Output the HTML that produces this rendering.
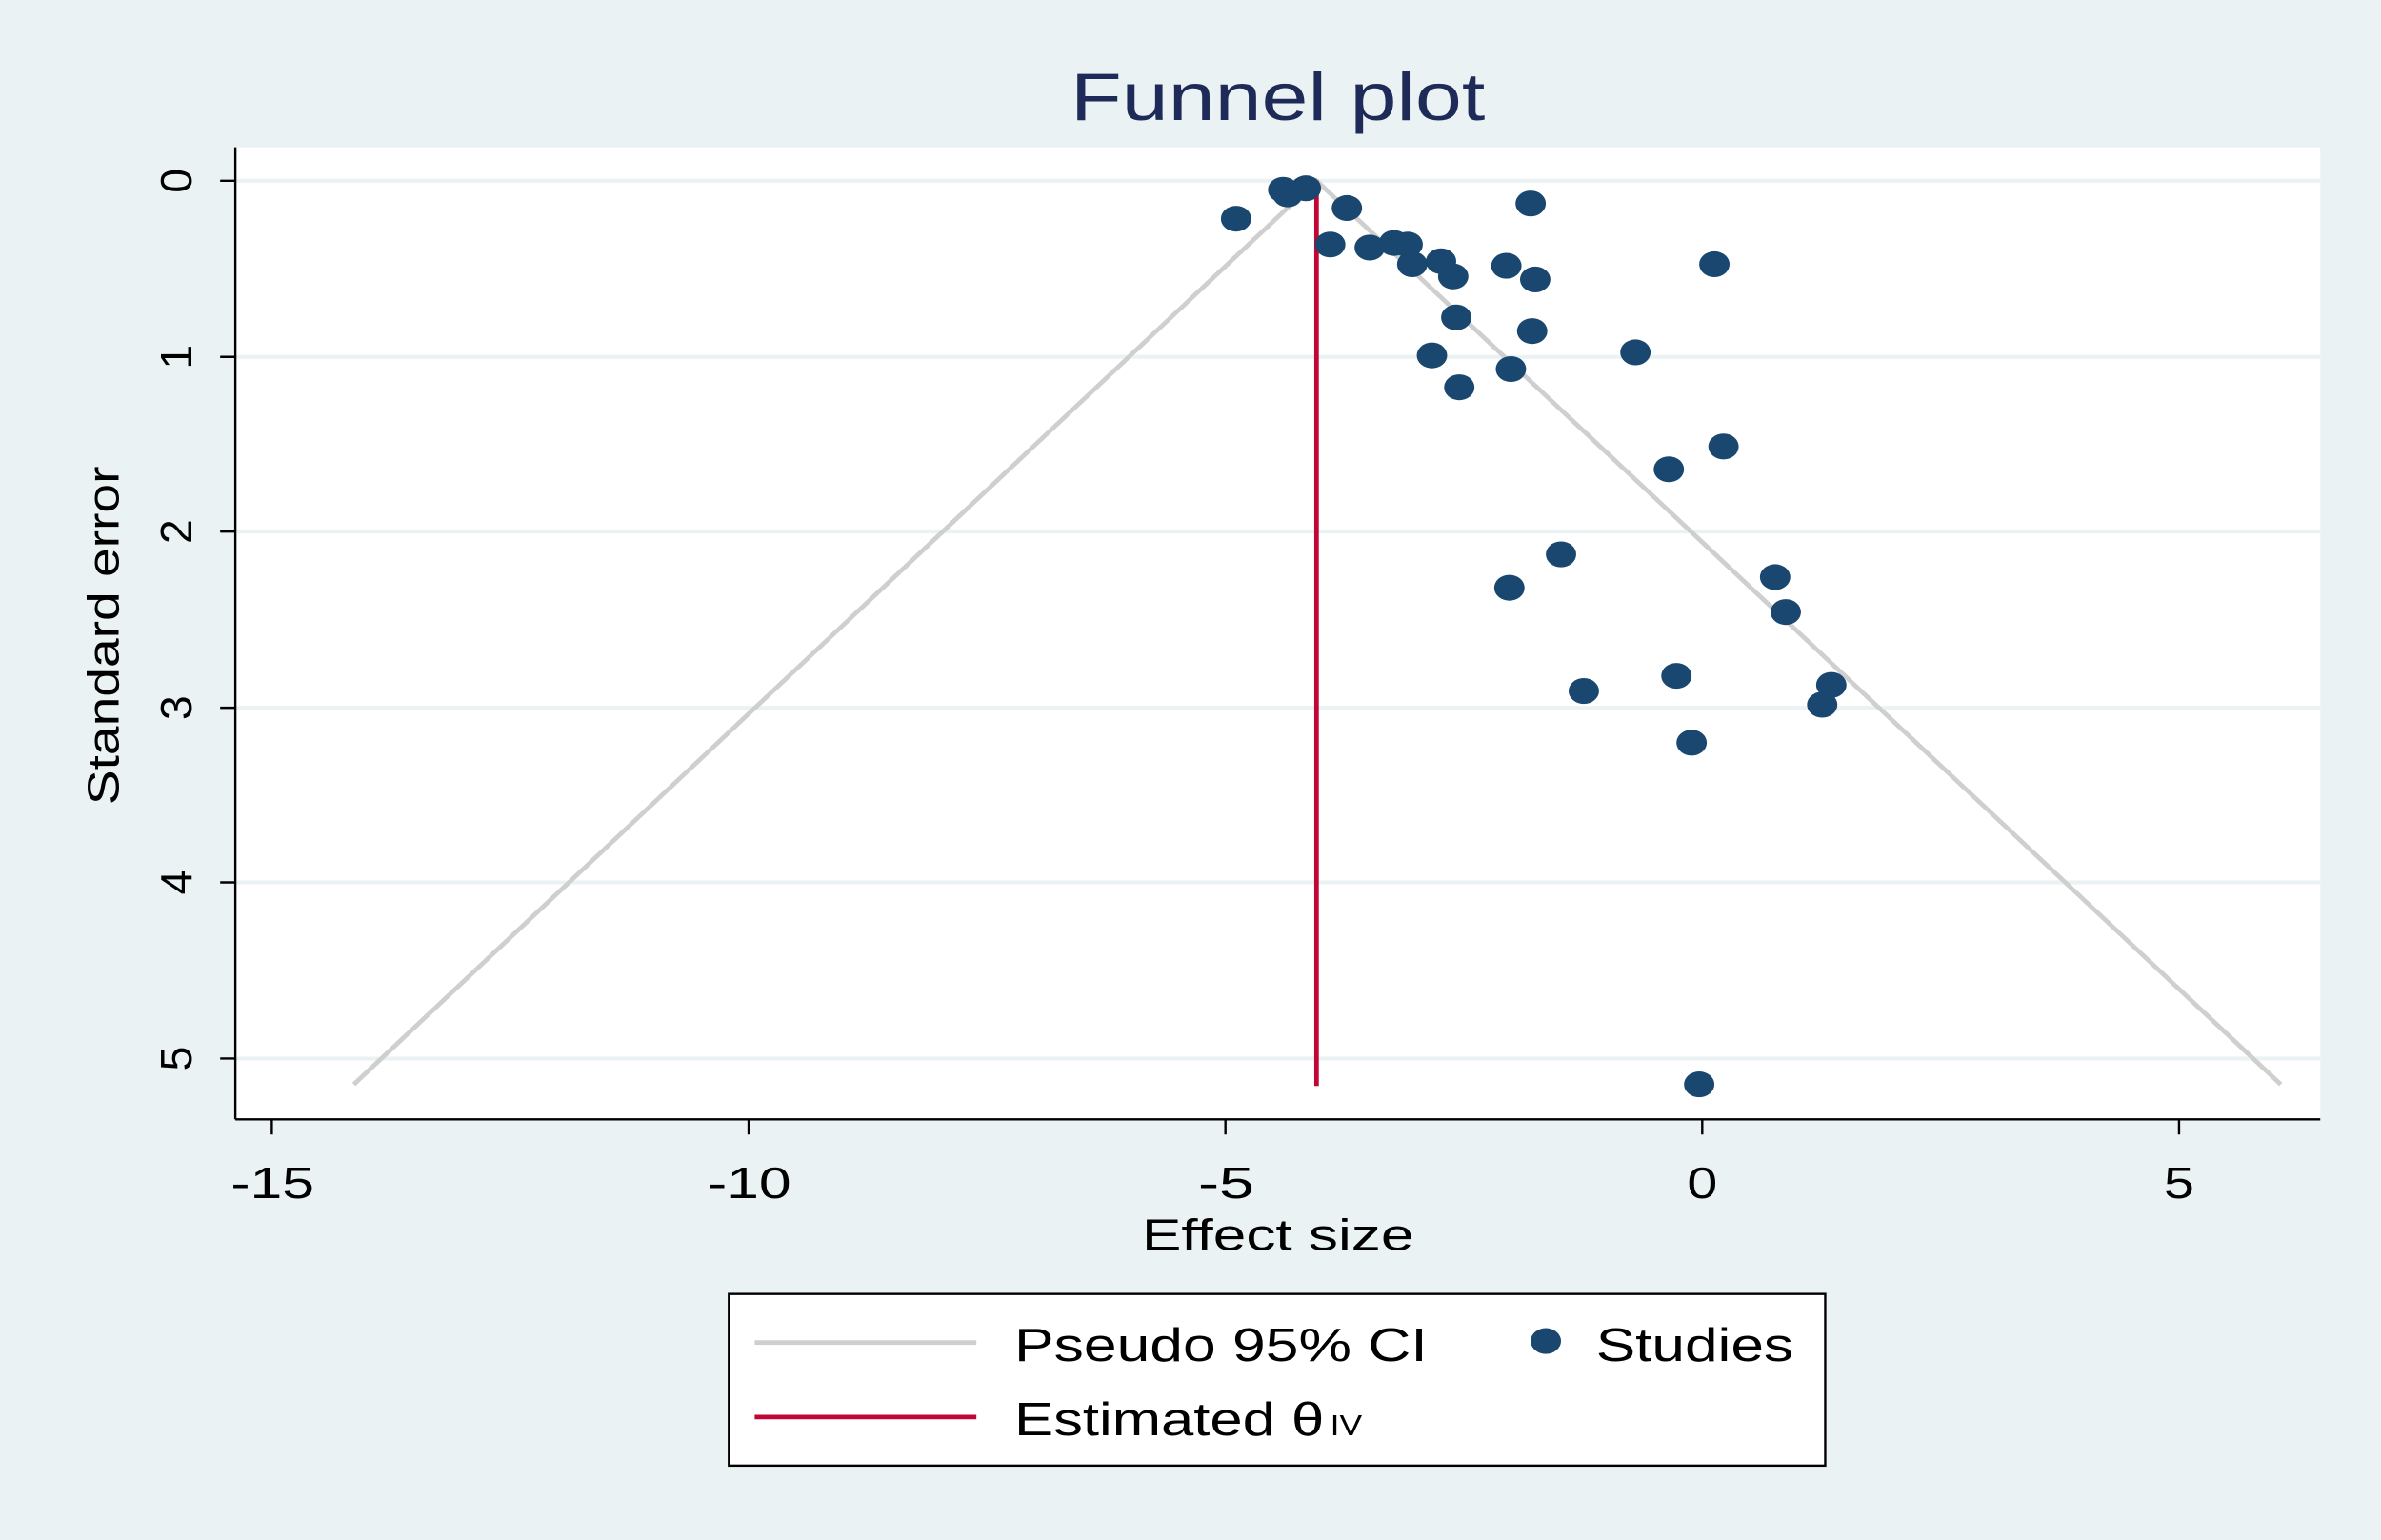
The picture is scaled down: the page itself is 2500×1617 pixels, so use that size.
<!DOCTYPE html>
<html><head><meta charset="utf-8"><style>
html,body{margin:0;padding:0;background:#eaf2f3;}
svg{display:block;}
text{font-family:"Liberation Sans",sans-serif;}
</style></head><body>
<svg width="2500" height="1617" viewBox="0 0 1568 1014" preserveAspectRatio="none">
<rect x="0" y="0" width="1568" height="1014" fill="#eaf2f3"/>
<text x="705" y="79" font-size="44" textLength="273" lengthAdjust="spacingAndGlyphs" fill="#1e2a57">Funnel plot</text>
<rect x="155" y="97" width="1373" height="640" fill="#fff"/>
<g stroke="#eaf2f3" stroke-width="2.5">
<line x1="155" x2="1528" y1="119" y2="119"/><line x1="155" x2="1528" y1="235" y2="235"/>
<line x1="155" x2="1528" y1="350" y2="350"/><line x1="155" x2="1528" y1="466" y2="466"/>
<line x1="155" x2="1528" y1="581" y2="581"/><line x1="155" x2="1528" y1="697" y2="697"/>
</g>
<polyline points="233,714 867,119 1502,714" fill="none" stroke="#cfcfcf" stroke-width="3"/>
<line x1="867" y1="119" x2="867" y2="715" stroke="#c10534" stroke-width="3"/>
<g fill="#1a476f">
<ellipse cx="814" cy="144" rx="10" ry="8.5"/><ellipse cx="845" cy="125" rx="10" ry="8.5"/><ellipse cx="848" cy="128" rx="10" ry="8.5"/><ellipse cx="860" cy="124" rx="10" ry="8.5"/><ellipse cx="887" cy="137" rx="10" ry="8.5"/><ellipse cx="1008" cy="134" rx="10" ry="8.5"/><ellipse cx="876" cy="161" rx="10" ry="8.5"/><ellipse cx="902" cy="163" rx="10" ry="8.5"/><ellipse cx="918" cy="160" rx="10" ry="8.5"/><ellipse cx="927" cy="161" rx="10" ry="8.5"/><ellipse cx="930" cy="174" rx="10" ry="8.5"/><ellipse cx="949" cy="172" rx="10" ry="8.5"/><ellipse cx="957" cy="182" rx="10" ry="8.5"/><ellipse cx="992" cy="175" rx="10" ry="8.5"/><ellipse cx="1011" cy="184" rx="10" ry="8.5"/><ellipse cx="1129" cy="174" rx="10" ry="8.5"/><ellipse cx="959" cy="209" rx="10" ry="8.5"/><ellipse cx="1009" cy="218" rx="10" ry="8.5"/><ellipse cx="1077" cy="232" rx="10" ry="8.5"/><ellipse cx="943" cy="234" rx="10" ry="8.5"/><ellipse cx="995" cy="243" rx="10" ry="8.5"/><ellipse cx="961" cy="255" rx="10" ry="8.5"/><ellipse cx="1135" cy="294" rx="10" ry="8.5"/><ellipse cx="1099" cy="309" rx="10" ry="8.5"/><ellipse cx="1028" cy="365" rx="10" ry="8.5"/><ellipse cx="994" cy="387" rx="10" ry="8.5"/><ellipse cx="1169" cy="380" rx="10" ry="8.5"/><ellipse cx="1176" cy="403" rx="10" ry="8.5"/><ellipse cx="1104" cy="445" rx="10" ry="8.5"/><ellipse cx="1206" cy="451" rx="10" ry="8.5"/><ellipse cx="1043" cy="455" rx="10" ry="8.5"/><ellipse cx="1200" cy="464" rx="10" ry="8.5"/><ellipse cx="1114" cy="489" rx="10" ry="8.5"/><ellipse cx="1119" cy="714" rx="10" ry="8.5"/>
</g>
<g stroke="#000" stroke-width="1.5">
<line x1="155" y1="97" x2="155" y2="737"/><line x1="155" x2="1528" y1="737" y2="737"/>
<line x1="145" x2="155" y1="119" y2="119"/><line x1="145" x2="155" y1="235" y2="235"/><line x1="145" x2="155" y1="350" y2="350"/><line x1="145" x2="155" y1="466" y2="466"/><line x1="145" x2="155" y1="581" y2="581"/><line x1="145" x2="155" y1="697" y2="697"/>
<line x1="179" x2="179" y1="737" y2="747"/><line x1="493" x2="493" y1="737" y2="747"/><line x1="807" x2="807" y1="737" y2="747"/><line x1="1121" x2="1121" y1="737" y2="747"/><line x1="1435" x2="1435" y1="737" y2="747"/>
</g>
<g font-size="29" fill="#000">
<text x="152" y="789" textLength="55" lengthAdjust="spacingAndGlyphs">-15</text>
<text x="466" y="789" textLength="55" lengthAdjust="spacingAndGlyphs">-10</text>
<text x="789" y="789" textLength="37" lengthAdjust="spacingAndGlyphs">-5</text>
<text x="1111" y="789" textLength="20" lengthAdjust="spacingAndGlyphs">0</text>
<text x="1425" y="789" textLength="20" lengthAdjust="spacingAndGlyphs">5</text>
<text x="752" y="823" textLength="179" lengthAdjust="spacingAndGlyphs">Effect size</text>
</g>
<g font-size="29" fill="#000" text-anchor="middle">
<text transform="translate(126,119) rotate(-90)">0</text>
<text transform="translate(126,235) rotate(-90)">1</text>
<text transform="translate(126,350) rotate(-90)">2</text>
<text transform="translate(126,466) rotate(-90)">3</text>
<text transform="translate(126,581) rotate(-90)">4</text>
<text transform="translate(126,697) rotate(-90)">5</text>
</g>
<text transform="translate(78,530) rotate(-90)" font-size="29" fill="#000" textLength="223" lengthAdjust="spacingAndGlyphs">Standard error</text>
<rect x="480" y="852" width="722" height="113" fill="#fff" stroke="#000" stroke-width="1.5"/>
<line x1="497" x2="643" y1="884" y2="884" stroke="#cfcfcf" stroke-width="3"/>
<line x1="497" x2="643" y1="933" y2="933" stroke="#c10534" stroke-width="3"/>
<ellipse cx="1018" cy="883" rx="10" ry="8.5" fill="#1a476f"/>
<g font-size="31" fill="#000">
<text x="668" y="896" textLength="272" lengthAdjust="spacingAndGlyphs">Pseudo 95% CI</text>
<text x="1051" y="896" textLength="130" lengthAdjust="spacingAndGlyphs">Studies</text>
<text x="668" y="945" textLength="204" lengthAdjust="spacingAndGlyphs">Estimated θ</text>
<text x="876" y="945" font-size="19" textLength="21" lengthAdjust="spacingAndGlyphs">IV</text>
</g>
</svg>
</body></html>
